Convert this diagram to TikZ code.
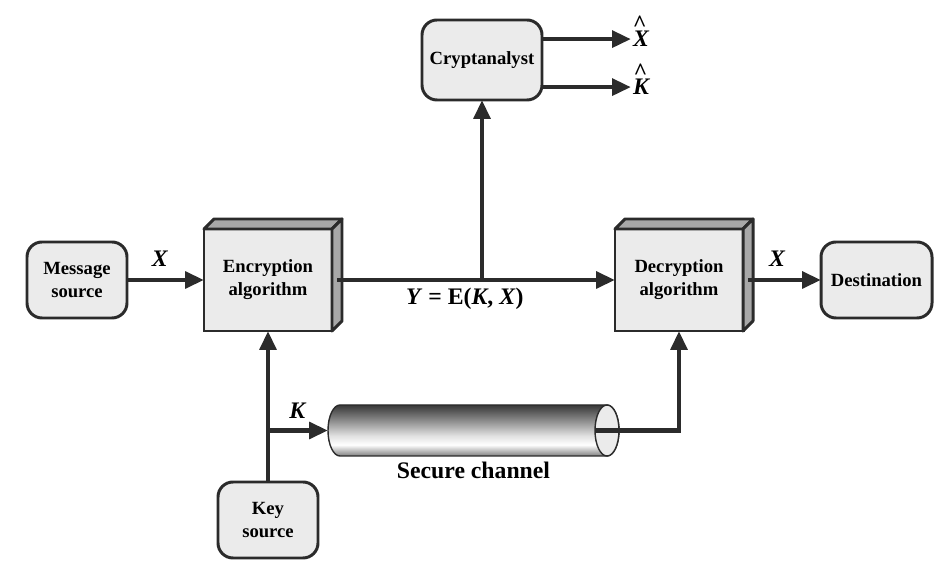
\documentclass[tikz,border=0pt]{standalone}
\usepackage{fontspec}
\setmainfont{Liberation Serif}
\usetikzlibrary{arrows.meta, calc, positioning}

\definecolor{ink}{HTML}{2B2B2B}
\definecolor{boxfill}{HTML}{EBEBEB}
\definecolor{sidefill}{HTML}{A8A8A8}
\pgfdeclareverticalshading{chanshade}{100bp}{color(0bp)=(black!50); color(25bp)=(black!50); color(36bp)=(white); color(45bp)=(black!12); color(62bp)=(black!50); color(75bp)=(black!78); color(100bp)=(black!78)}

\tikzset{lab/.style={font=\fontsize{13.5}{16}\selectfont\bfseries}}
\newcommand{\hatted}[1]{\textit{#1}\llap{\raisebox{0.64em}{\^{}}\kern0.12em}}

\begin{document}
\begin{tikzpicture}
\useasboundingbox (0,0) rectangle (18.9,-11.38);

\begin{scope}[every node/.style={draw=ink, line width=1.7pt, fill=boxfill, inner sep=0pt, outer sep=0pt, align=center, font=\fontsize{10.6}{13}\selectfont\bfseries}]
    \node (msg) at (1.54, -5.6) [rounded corners=0.3cm, minimum width=2cm, minimum height=1.52cm] {Message\\source};
    \node (enc) at (5.36, -5.6) [minimum width=2.56cm, minimum height=2.04cm] {Encryption\\algorithm};
    \node (dec) at (13.58, -5.6) [minimum width=2.56cm, minimum height=2.04cm] {Decryption\\algorithm};
    \node (dest) at (17.53, -5.6) [rounded corners=0.3cm, minimum width=2.22cm, minimum height=1.52cm] {Destination};
    \node (crypt) at (9.64, -1.2) [rounded corners=0.3cm, minimum width=2.4cm, minimum height=1.6cm] {Cryptanalyst};
    \node (key) at (5.36, -10.4) [rounded corners=0.3cm, minimum width=2cm, minimum height=1.52cm] {Key\\source};
\end{scope}

\foreach \b in {enc, dec} {
    \draw[ink, line width=1.7pt, line join=round, fill=sidefill] (\b.north west) -- ++(0.2, 0.2) -- ($(\b.north east)+(0.2, 0.2)$) -- (\b.north east) -- cycle;
    \draw[ink, line width=1.7pt, line join=round, fill=sidefill] (\b.north east) -- ++(0.2, 0.2) -- ($(\b.south east)+(0.2, 0.2)$) -- (\b.south east) -- cycle;
}

\node (chan) at (9.47, -8.61) [minimum width=5.82cm, minimum height=1.02cm, inner sep=0pt, outer sep=0pt] {};
\path[draw=ink, line width=0.8pt, shading=chanshade] ([xshift=0.24cm]chan.north west) -- ([xshift=-0.24cm]chan.north east) arc[start angle=90, end angle=-90, x radius=0.24cm, y radius=0.51cm] -- ([xshift=0.24cm]chan.south west) arc[start angle=270, end angle=90, x radius=0.24cm, y radius=0.51cm] -- cycle;
\draw[ink, line width=0.8pt, fill=boxfill] ([xshift=-0.24cm]chan.east) ellipse [x radius=0.24cm, y radius=0.51cm];
\node (chanlab) [below=0pt of chan, lab] {Secure channel};

\node (xhat) at (12.62, -0.94) [anchor=base west, inner sep=1pt, lab] {\hatted{X}};
\node (khat) at (12.62, -1.9) [anchor=base west, inner sep=1pt, lab] {\hatted{K}};
\coordinate (xtip) at ([yshift=4.5pt]xhat.base west);
\coordinate (ktip) at ([yshift=4.5pt]khat.base west);

\coordinate (jn) at (crypt |- enc);
\coordinate (kj) at (key |- chan);

\begin{scope}[>={Triangle[length=0.38cm, width=0.33cm]},
              every edge/.style={draw=ink, line width=2.6pt}]
    \path [->] (msg) edge node[lab, above=3pt, pos=0.43] {\textit{X}} (enc);
    \path [->] ([xshift=0.1cm]enc.east) edge node[lab, below, pos=0.46] {\textit{Y} = E(\textit{K}, \textit{X})} (dec);
    \path [->] (jn) edge (crypt);
    \path [->] (crypt.east |- xtip) edge (xtip);
    \path [->] (crypt.east |- ktip) edge (ktip);
    \path [->] ([xshift=0.1cm]dec.east) edge node[lab, above=3pt, pos=0.4] {\textit{X}} (dest);
    \path [->] (key) edge (enc);
    \path [->] (kj) edge node[lab, above=2pt] {\textit{K}} (chan);
    \path [->] ([xshift=-0.48cm]chan.east) edge[to path={-| (\tikztotarget)}] (dec.south);
\end{scope}

\end{tikzpicture}
\end{document}
